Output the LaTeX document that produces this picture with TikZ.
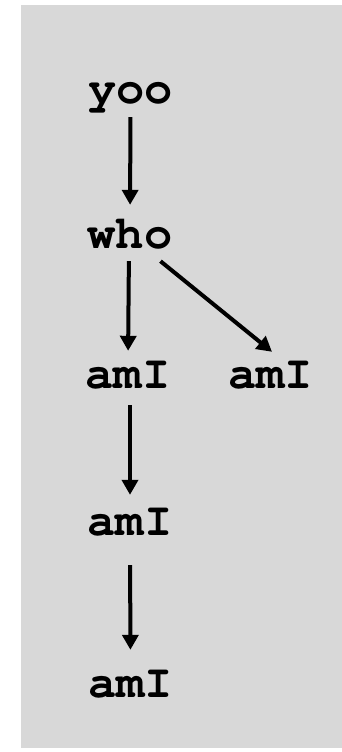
\documentclass[tikz,border=0pt]{standalone}
\usepackage[T1]{fontenc}
\usetikzlibrary{arrows.meta}
\definecolor{bggray}{RGB}{216,216,216}
\tikzset{
  word/.style={anchor=base, inner sep=0pt, text height=25pt, text depth=0pt,
    font=\fontfamily{pcr}\fontseries{b}\fontsize{47}{52}\selectfont},
  link/.style={line width=4pt, -{Triangle[length=15pt,width=16pt]}}
}
\begin{document}
\begin{tikzpicture}[x=1pt,y=1pt]
\useasboundingbox (0,0) rectangle (342,-752);
\fill[bggray] (21,-5) rectangle (342,-748);
\node[word] (yoo) at (130.5,-103) {yoo};
\node[word] (who) at (130,-248) {who};
\node[word] (a1) at (128,-388) {amI};
\node[word] (a2) at (270.5,-388) {amI};
\node[word] (a3) at (130,-535) {amI};
\node[word] (a4) at (130.5,-697) {amI};
\draw[link, shorten <=14pt, shorten >=18pt] (yoo.south) -- (who.north);
\draw[link, shorten <=13pt, shorten >=12pt] ([xshift=-1pt]who.south) -- (a1.north);
\draw[link] ([xshift=-12pt,yshift=-13pt]who.south east) -- ([xshift=1.5pt,yshift=11pt]a2.north);
\draw[link, shorten <=17pt, shorten >=15pt] ([xshift=2pt]a1.south) -- (a3.north);
\draw[link, shorten <=30pt, shorten >=22pt] (a3.south) -- (a4.north);
\end{tikzpicture}
\end{document}
